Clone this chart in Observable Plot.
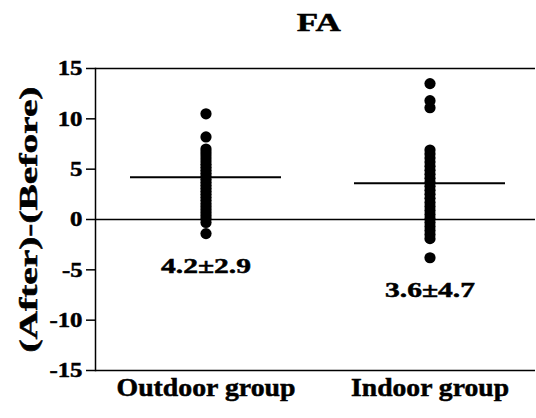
<!DOCTYPE html>
<html>
<head>
<meta charset="utf-8">
<script src="https://cdn.jsdelivr.net/npm/d3@7"></script>
<script src="https://cdn.jsdelivr.net/npm/@observablehq/plot@0.6"></script>
<style>
  body { margin: 0; background: white; }
  #title { width: 536px; height: 50px; box-sizing: border-box; padding-top: 10px; padding-left: 102px; text-align: center;
    font-family: "Liberation Serif", serif; font-weight: bold; font-size: 25px; line-height: 26px; color: black;
    -webkit-text-stroke: 0.5px black; }
  #title span { display: inline-block; transform: scaleX(1.4); }
</style>
</head>
<body>
<div id="title"><span>FA</span></div>
<div id="chart"></div>
<script>
const titleText = "FA";
const groups = ["Outdoor group", "Indoor group"];
const outdoorValues = [10.5, 8.2, 7.0, 6.7, 6.4, 6.1, 5.8, 5.5, 5.2, 4.9, 4.6, 4.3, 4.0, 3.7, 3.4, 3.1, 2.8, 2.5, 2.2, 1.9, 1.6, 1.3, 1.0, 0.7, 0.4, 0.1, -0.3, -1.4];
const indoorValues = [13.5, 11.8, 11.1, 6.9, 6.5, 6.1, 5.7, 5.3, 4.9, 4.5, 4.1, 3.7, 3.3, 2.9, 2.5, 2.1, 1.7, 1.3, 0.9, 0.5, 0.1, -0.3, -0.7, -1.1, -1.5, -1.9, -3.8];
const means = [4.2, 3.6];
const sds = [2.9, 4.7];
const statLabelY = [-4.6, -7.0];
const yTicks = [-15, -10, -5, 0, 5, 10, 15];
const yLabel = "(After)-(Before)";

const points = [
  ...outdoorValues.map(v => ({group: groups[0], value: v})),
  ...indoorValues.map(v => ({group: groups[1], value: v}))
];
const stats = groups.map((g, i) => ({group: g, mean: means[i], sd: sds[i], ly: statLabelY[i], label: `${means[i].toFixed(1)}±${sds[i].toFixed(1)}`}));

const plot = Plot.plot({
  width: 536,
  height: 368,
  marginLeft: 95,
  marginRight: 1,
  marginTop: 18,
  marginBottom: 48,
  style: {fontFamily: "'Liberation Serif', serif", fontWeight: "bold", fontSize: "21px", color: "black", background: "white", overflow: "visible"},
  x: {type: "band", domain: groups, range: [130, 505], paddingInner: 0.326, paddingOuter: 0},
  y: {domain: [-15, 15]},
  marks: [
    Plot.axisY({ticks: yTicks, tickSize: 9, tickPadding: 4, tickFormat: d => String(d), label: yLabel, labelAnchor: "center", labelOffset: 76, labelArrow: "none", fontSize: 21, strokeWidth: 1.5}),
    Plot.axisX({tickSize: 0, tickPadding: 8, label: null, fontSize: 25}),
    Plot.ruleY([-15, 15], {stroke: "black", strokeWidth: 1.5}),
    Plot.frame({anchor: "left", stroke: "black", strokeWidth: 1.5}),
    Plot.ruleY([0], {stroke: "black", strokeWidth: 1.5}),
    Plot.tickY(stats, {x: "group", y: "mean", stroke: "black", strokeWidth: 2}),
    Plot.dot(points, {x: "group", y: "value", r: 5.6, fill: "black", stroke: "none"}),
    Plot.text(stats, {x: "group", y: "ly", text: "label", fontSize: 22, fontWeight: "bold"})
  ]
});
document.getElementById("chart").appendChild(plot);

// the reference typography is horizontally widened and heavy; emulate it
const fixedWidths = {"Outdoor group": 179, "Indoor group": 158, "4.2±2.9": 90, "3.6±4.7": 90};
plot.querySelectorAll("text").forEach(t => {
  const s = t.textContent;
  const len = t.getComputedTextLength();
  t.style.stroke = "black";
  t.style.strokeWidth = "0.5px";
  if (s === yLabel) {
    t.setAttribute("font-size", "25");
    t.setAttribute("textLength", 266);
    t.setAttribute("lengthAdjust", "spacingAndGlyphs");
  } else if (fixedWidths[s]) {
    t.setAttribute("textLength", fixedWidths[s]);
    t.setAttribute("lengthAdjust", "spacingAndGlyphs");
  } else if (len > 0) {
    t.setAttribute("textLength", (len * 1.18).toFixed(1));
    t.setAttribute("lengthAdjust", "spacingAndGlyphs");
  }
});
</script>
</body>
</html>
